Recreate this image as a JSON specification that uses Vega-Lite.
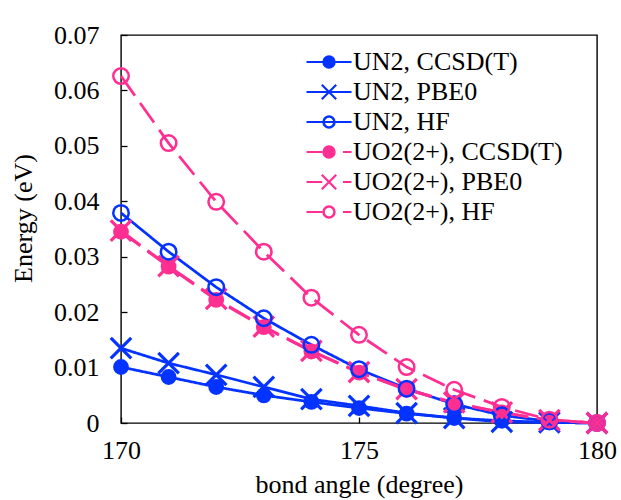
{
  "$schema": "https://vega.github.io/schema/vega-lite/v6.json",
  "width": 476,
  "height": 388,
  "autosize": {"type": "none"},
  "padding": {"left": 121, "top": 35, "right": 24, "bottom": 77},
  "background": "white",
  "config": {
    "view": {"stroke": "black", "strokeWidth": 1.4},
    "font": "'Times New Roman', 'Liberation Serif', 'DejaVu Serif', serif",
    "axis": {
      "domain": false,
      "grid": false,
      "tickColor": "black",
      "tickWidth": 1.3,
      "tickSize": -6,
      "labelFont": "'Times New Roman', 'Liberation Serif', 'DejaVu Serif', serif",
      "labelFontSize": 26,
      "labelColor": "black",
      "labelFlush": false,
      "titleFont": "'Times New Roman', 'Liberation Serif', 'DejaVu Serif', serif",
      "titleFontSize": 26,
      "titleFontWeight": "normal",
      "titleColor": "black"
    }
  },
  "data": {
    "values": [
      {"angle": 170, "molecule": "UN2", "method": "CCSD(T)", "series": "UN2, CCSD(T)", "energy": 0.0101},
      {"angle": 171, "molecule": "UN2", "method": "CCSD(T)", "series": "UN2, CCSD(T)", "energy": 0.0083},
      {"angle": 172, "molecule": "UN2", "method": "CCSD(T)", "series": "UN2, CCSD(T)", "energy": 0.0065},
      {"angle": 173, "molecule": "UN2", "method": "CCSD(T)", "series": "UN2, CCSD(T)", "energy": 0.0050},
      {"angle": 174, "molecule": "UN2", "method": "CCSD(T)", "series": "UN2, CCSD(T)", "energy": 0.0038},
      {"angle": 175, "molecule": "UN2", "method": "CCSD(T)", "series": "UN2, CCSD(T)", "energy": 0.0027},
      {"angle": 176, "molecule": "UN2", "method": "CCSD(T)", "series": "UN2, CCSD(T)", "energy": 0.0017},
      {"angle": 177, "molecule": "UN2", "method": "CCSD(T)", "series": "UN2, CCSD(T)", "energy": 0.0009},
      {"angle": 178, "molecule": "UN2", "method": "CCSD(T)", "series": "UN2, CCSD(T)", "energy": 0.0004},
      {"angle": 179, "molecule": "UN2", "method": "CCSD(T)", "series": "UN2, CCSD(T)", "energy": 0.0001},
      {"angle": 180, "molecule": "UN2", "method": "CCSD(T)", "series": "UN2, CCSD(T)", "energy": 0.0},
      {"angle": 170, "molecule": "UN2", "method": "PBE0", "series": "UN2, PBE0", "energy": 0.0135},
      {"angle": 171, "molecule": "UN2", "method": "PBE0", "series": "UN2, PBE0", "energy": 0.0108},
      {"angle": 172, "molecule": "UN2", "method": "PBE0", "series": "UN2, PBE0", "energy": 0.0087},
      {"angle": 173, "molecule": "UN2", "method": "PBE0", "series": "UN2, PBE0", "energy": 0.0065},
      {"angle": 174, "molecule": "UN2", "method": "PBE0", "series": "UN2, PBE0", "energy": 0.0043},
      {"angle": 175, "molecule": "UN2", "method": "PBE0", "series": "UN2, PBE0", "energy": 0.0031},
      {"angle": 176, "molecule": "UN2", "method": "PBE0", "series": "UN2, PBE0", "energy": 0.0018},
      {"angle": 177, "molecule": "UN2", "method": "PBE0", "series": "UN2, PBE0", "energy": 0.0009},
      {"angle": 178, "molecule": "UN2", "method": "PBE0", "series": "UN2, PBE0", "energy": 0.0002},
      {"angle": 179, "molecule": "UN2", "method": "PBE0", "series": "UN2, PBE0", "energy": 0.0001},
      {"angle": 180, "molecule": "UN2", "method": "PBE0", "series": "UN2, PBE0", "energy": 0.0},
      {"angle": 170, "molecule": "UN2", "method": "HF", "series": "UN2, HF", "energy": 0.0379},
      {"angle": 171, "molecule": "UN2", "method": "HF", "series": "UN2, HF", "energy": 0.0309},
      {"angle": 172, "molecule": "UN2", "method": "HF", "series": "UN2, HF", "energy": 0.0245},
      {"angle": 173, "molecule": "UN2", "method": "HF", "series": "UN2, HF", "energy": 0.0189},
      {"angle": 174, "molecule": "UN2", "method": "HF", "series": "UN2, HF", "energy": 0.0141},
      {"angle": 175, "molecule": "UN2", "method": "HF", "series": "UN2, HF", "energy": 0.0097},
      {"angle": 176, "molecule": "UN2", "method": "HF", "series": "UN2, HF", "energy": 0.0062},
      {"angle": 177, "molecule": "UN2", "method": "HF", "series": "UN2, HF", "energy": 0.0034},
      {"angle": 178, "molecule": "UN2", "method": "HF", "series": "UN2, HF", "energy": 0.0014},
      {"angle": 179, "molecule": "UN2", "method": "HF", "series": "UN2, HF", "energy": 0.0003},
      {"angle": 180, "molecule": "UN2", "method": "HF", "series": "UN2, HF", "energy": 0.0},
      {"angle": 170, "molecule": "UO2(2+)", "method": "CCSD(T)", "series": "UO2(2+), CCSD(T)", "energy": 0.0345},
      {"angle": 171, "molecule": "UO2(2+)", "method": "CCSD(T)", "series": "UO2(2+), CCSD(T)", "energy": 0.0282},
      {"angle": 172, "molecule": "UO2(2+)", "method": "CCSD(T)", "series": "UO2(2+), CCSD(T)", "energy": 0.0222},
      {"angle": 173, "molecule": "UO2(2+)", "method": "CCSD(T)", "series": "UO2(2+), CCSD(T)", "energy": 0.0173},
      {"angle": 174, "molecule": "UO2(2+)", "method": "CCSD(T)", "series": "UO2(2+), CCSD(T)", "energy": 0.0129},
      {"angle": 175, "molecule": "UO2(2+)", "method": "CCSD(T)", "series": "UO2(2+), CCSD(T)", "energy": 0.0091},
      {"angle": 176, "molecule": "UO2(2+)", "method": "CCSD(T)", "series": "UO2(2+), CCSD(T)", "energy": 0.0060},
      {"angle": 177, "molecule": "UO2(2+)", "method": "CCSD(T)", "series": "UO2(2+), CCSD(T)", "energy": 0.0036},
      {"angle": 178, "molecule": "UO2(2+)", "method": "CCSD(T)", "series": "UO2(2+), CCSD(T)", "energy": 0.0019},
      {"angle": 179, "molecule": "UO2(2+)", "method": "CCSD(T)", "series": "UO2(2+), CCSD(T)", "energy": 0.0005},
      {"angle": 180, "molecule": "UO2(2+)", "method": "CCSD(T)", "series": "UO2(2+), CCSD(T)", "energy": 0.0},
      {"angle": 170, "molecule": "UO2(2+)", "method": "PBE0", "series": "UO2(2+), PBE0", "energy": 0.0347},
      {"angle": 171, "molecule": "UO2(2+)", "method": "PBE0", "series": "UO2(2+), PBE0", "energy": 0.0283},
      {"angle": 172, "molecule": "UO2(2+)", "method": "PBE0", "series": "UO2(2+), PBE0", "energy": 0.0224},
      {"angle": 173, "molecule": "UO2(2+)", "method": "PBE0", "series": "UO2(2+), PBE0", "energy": 0.0174},
      {"angle": 174, "molecule": "UO2(2+)", "method": "PBE0", "series": "UO2(2+), PBE0", "energy": 0.0130},
      {"angle": 175, "molecule": "UO2(2+)", "method": "PBE0", "series": "UO2(2+), PBE0", "energy": 0.0092},
      {"angle": 176, "molecule": "UO2(2+)", "method": "PBE0", "series": "UO2(2+), PBE0", "energy": 0.0061},
      {"angle": 177, "molecule": "UO2(2+)", "method": "PBE0", "series": "UO2(2+), PBE0", "energy": 0.0037},
      {"angle": 178, "molecule": "UO2(2+)", "method": "PBE0", "series": "UO2(2+), PBE0", "energy": 0.0019},
      {"angle": 179, "molecule": "UO2(2+)", "method": "PBE0", "series": "UO2(2+), PBE0", "energy": 0.0005},
      {"angle": 180, "molecule": "UO2(2+)", "method": "PBE0", "series": "UO2(2+), PBE0", "energy": 0.0},
      {"angle": 170, "molecule": "UO2(2+)", "method": "HF", "series": "UO2(2+), HF", "energy": 0.0626},
      {"angle": 171, "molecule": "UO2(2+)", "method": "HF", "series": "UO2(2+), HF", "energy": 0.0505},
      {"angle": 172, "molecule": "UO2(2+)", "method": "HF", "series": "UO2(2+), HF", "energy": 0.0399},
      {"angle": 173, "molecule": "UO2(2+)", "method": "HF", "series": "UO2(2+), HF", "energy": 0.0309},
      {"angle": 174, "molecule": "UO2(2+)", "method": "HF", "series": "UO2(2+), HF", "energy": 0.0226},
      {"angle": 175, "molecule": "UO2(2+)", "method": "HF", "series": "UO2(2+), HF", "energy": 0.0159},
      {"angle": 176, "molecule": "UO2(2+)", "method": "HF", "series": "UO2(2+), HF", "energy": 0.0101},
      {"angle": 177, "molecule": "UO2(2+)", "method": "HF", "series": "UO2(2+), HF", "energy": 0.0060},
      {"angle": 178, "molecule": "UO2(2+)", "method": "HF", "series": "UO2(2+), HF", "energy": 0.0029},
      {"angle": 179, "molecule": "UO2(2+)", "method": "HF", "series": "UO2(2+), HF", "energy": 0.0006},
      {"angle": 180, "molecule": "UO2(2+)", "method": "HF", "series": "UO2(2+), HF", "energy": 0.0}
    ]
  },
  "encoding": {
    "x": {
      "field": "angle",
      "type": "quantitative",
      "scale": {"domain": [170, 180], "nice": false, "zero": false},
      "axis": {
        "title": "bond angle (degree)",
        "values": [170, 175, 180],
        "labelPadding": 20,
        "titleBaseline": "alphabetic",
        "titleX": 238,
        "titleY": 69
      }
    },
    "y": {
      "field": "energy",
      "type": "quantitative",
      "scale": {"domain": [0, 0.07], "nice": false},
      "axis": {
        "title": "Energy (eV)",
        "values": [0, 0.01, 0.02, 0.03, 0.04, 0.05, 0.06, 0.07],
        "labelExpr": "datum.value === 0 ? '0' : format(datum.value, '.2f')",
        "labelPadding": 28,
        "titleBaseline": "alphabetic",
        "titleX": -90,
        "titleY": 183
      }
    },
    "color": {
      "field": "series",
      "type": "nominal",
      "scale": {
        "domain": ["UN2, CCSD(T)", "UN2, PBE0", "UN2, HF", "UO2(2+), CCSD(T)", "UO2(2+), PBE0", "UO2(2+), HF"],
        "range": ["#0433FF", "#0433FF", "#0433FF", "#FF2F92", "#FF2F92", "#FF2F92"]
      },
      "legend": null
    }
  },
  "layer": [
    {
      "mark": {"type": "line", "strokeWidth": 2.75},
      "encoding": {
        "strokeDash": {
          "field": "molecule",
          "type": "nominal",
          "scale": {"domain": ["UN2", "UO2(2+)"], "range": [[1, 0], [24, 9]]},
          "legend": null
        },
        "color": {
          "field": "series",
          "type": "nominal",
          "legend": {
            "title": null,
            "orient": "none",
            "legendX": 184,
            "legendY": 13,
            "padding": 0,
            "symbolSize": 2025,
            "clipHeight": 28,
            "rowPadding": 2,
            "labelOffset": 0,
            "labelFont": "'Times New Roman', 'Liberation Serif', 'DejaVu Serif', serif",
            "labelFontSize": 26,
            "labelColor": "black",
            "labelLimit": 400,
            "symbolStrokeWidth": 2.2,
            "encode": {
              "symbols": {
                "update": {
                  "shape": {
                    "signal": "(indexof(datum.value, 'UN2') === 0 ? 'M-1,0H1' : 'M-1,0H-0.3M0.62,0H1') + (indexof(datum.value, 'PBE0') >= 0 ? 'M-0.32,-0.32L0.32,0.32M-0.32,0.32L0.32,-0.32' : indexof(datum.value, 'HF') >= 0 ? 'M-0.25,0A0.25,0.25,0,1,1,0.25,0A0.25,0.25,0,1,1,-0.25,0ZM-0.235,0A0.235,0.235,0,1,0,0.235,0A0.235,0.235,0,1,0,-0.235,0Z' : 'M-0.25,0A0.25,0.25,0,1,1,0.25,0A0.25,0.25,0,1,1,-0.25,0Z')"
                  },
                  "fill": {"signal": "scale('color', datum.value)"},
                  "stroke": {"signal": "scale('color', datum.value)"},
                  "strokeDash": {"value": []},
                  "strokeWidth": {"value": 2.2},
                  "opacity": {"value": 1}
                }
              }
            }
          }
        }
      }
    },
    {
      "transform": [{"filter": "datum.method === 'CCSD(T)'"}],
      "mark": {"type": "point", "shape": "circle", "filled": true, "size": 250, "opacity": 1}
    },
    {
      "transform": [{"filter": "datum.method === 'PBE0'"}],
      "mark": {
        "type": "point",
        "shape": "M-1,-1L1,1M-1,1L1,-1",
        "filled": false,
        "size": 420,
        "strokeWidth": 3.2,
        "opacity": 1
      }
    },
    {
      "transform": [{"filter": "datum.method === 'HF'"}],
      "mark": {"type": "point", "shape": "circle", "filled": false, "size": 240, "strokeWidth": 2.5, "opacity": 1}
    }
  ]
}
